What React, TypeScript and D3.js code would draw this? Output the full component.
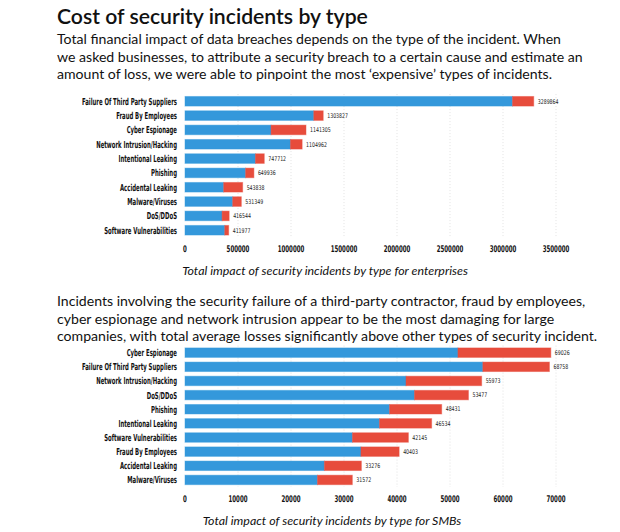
import React, { useEffect, useRef } from 'react';
import * as d3 from 'd3';

const titleText = 'Cost of security incidents by type';
const introLines = [
  'Total financial impact of data breaches depends on the type of the incident. When',
  'we asked businesses, to attribute a security breach to a certain cause and estimate an',
  'amount of loss, we were able to pinpoint the most \u2018expensive\u2019 types of incidents.',
];
const middleLines = [
  'Incidents involving the security failure of a third-party contractor, fraud by employees,',
  'cyber espionage and network intrusion appear to be the most damaging for large',
  'companies, with total average losses significantly above other types of security incident.',
];

const enterpriseTypes = [
  'Failure Of Third Party Suppliers',
  'Fraud By Employees',
  'Cyber Espionage',
  'Network Intrusion/Hacking',
  'Intentional Leaking',
  'Phishing',
  'Accidental Leaking',
  'Malware/Viruses',
  'DoS/DDoS',
  'Software Vulnerabilities',
];
const enterpriseBlue = [3090000, 1215000, 812000, 995000, 665000, 572000, 365000, 450000, 350000, 375000];
const enterpriseRed = [199864, 88827, 329305, 109962, 82712, 77936, 178838, 81349, 66544, 36977];
const enterpriseTicks = [0, 500000, 1000000, 1500000, 2000000, 2500000, 3000000, 3500000];
const enterpriseCaption = 'Total impact of security incidents by type for enterprises';

const smbTypes = [
  'Cyber Espionage',
  'Failure Of Third Party Suppliers',
  'Network Intrusion/Hacking',
  'DoS/DDoS',
  'Phishing',
  'Intentional Leaking',
  'Software Vulnerabilities',
  'Fraud By Employees',
  'Accidental Leaking',
  'Malware/Viruses',
];
const smbBlue = [51500, 56200, 41700, 43300, 38600, 36700, 31600, 33200, 26300, 25000];
const smbRed = [17526, 12558, 14273, 10177, 9831, 9834, 10545, 7203, 6976, 6572];
const smbTicks = [0, 10000, 20000, 30000, 40000, 50000, 60000, 70000];
const smbCaption = 'Total impact of security incidents by type for SMBs';

const BLUE = '#3498db';
const RED = '#e74c3c';
const TEXT_FONT = 'Lato, "Open Sans", sans-serif';
const LABEL_FONT = '"DejaVu Sans Condensed", "DejaVu Sans", sans-serif';

type Sel = d3.Selection<SVGGElement, unknown, null, undefined>;

function drawChart(
  g: Sel,
  types: string[],
  blue: number[],
  red: number[],
  ticks: number[],
  top: number,
  bottom: number,
  axisY: number,
  caption: string,
  captionX: number,
  captionY: number,
) {
  const x = d3.scaleLinear().domain([0, ticks[ticks.length - 1]]).range([185, 556]);
  const y = d3.scaleBand<string>().domain(types).range([top, bottom])
    .paddingInner(0.33).paddingOuter(0.165);

  // dotted grid
  g.append('g').selectAll('line')
    .data(ticks.slice(1))
    .enter().append('line')
    .attr('x1', d => x(d)).attr('x2', d => x(d))
    .attr('y1', top).attr('y2', bottom)
    .attr('stroke', '#e2e2e2')
    .attr('stroke-dasharray', '1,2');

  const rows = g.append('g').selectAll('g')
    .data(types)
    .enter().append('g')
    .attr('transform', d => `translate(0,${y(d)})`);

  rows.append('rect')
    .attr('x', x(0))
    .attr('width', (d, i) => x(blue[i]) - x(0))
    .attr('height', y.bandwidth())
    .attr('fill', BLUE)
    .attr('stroke', BLUE)
    .attr('stroke-opacity', 0.45);

  rows.append('rect')
    .attr('x', (d, i) => x(blue[i]))
    .attr('width', (d, i) => x(blue[i] + red[i]) - x(blue[i]))
    .attr('height', y.bandwidth())
    .attr('fill', RED)
    .attr('stroke', RED)
    .attr('stroke-opacity', 0.45);

  rows.append('text')
    .attr('x', (d, i) => x(blue[i] + red[i]) + 4)
    .attr('y', y.bandwidth() / 2)
    .attr('dy', '0.35em')
    .attr('font-family', LABEL_FONT)
    .attr('font-size', 6.5)
    .attr('fill', '#222')
    .attr('transform-origin', (d, i) => `${x(blue[i] + red[i]) + 4} 0`)
    .attr('transform', 'scale(0.8,1)')
    .text((d, i) => String(blue[i] + red[i]));

  // category labels
  rows.append('text')
    .attr('transform', `translate(177,${y.bandwidth() / 2}) scale(0.62,1)`)
    .attr('text-anchor', 'end')
    .attr('dy', '0.36em')
    .attr('font-family', LABEL_FONT)
    .attr('font-weight', 'bold')
    .attr('font-size', 9.6)
    .attr('fill', '#111')
    .text(d => d);

  // axis labels
  g.append('g').selectAll('text')
    .data(ticks)
    .enter().append('text')
    .attr('transform', d => `translate(${x(d)},${axisY}) scale(0.66,1)`)
    .attr('text-anchor', 'middle')
    .attr('font-family', LABEL_FONT)
    .attr('font-weight', 'bold')
    .attr('font-size', 9.2)
    .attr('fill', '#111')
    .text(d => String(d));

  g.append('text')
    .attr('x', captionX)
    .attr('y', captionY)
    .attr('text-anchor', 'middle')
    .attr('font-family', TEXT_FONT)
    .attr('font-style', 'italic')
    .attr('font-size', 12.4)
    .attr('fill', '#111')
    .text(caption);
}

export default function App() {
  const ref = useRef<SVGSVGElement>(null);

  useEffect(() => {
    if (!ref.current) return;
    document.body.style.margin = '0';
    const svg = d3.select(ref.current);
    svg.selectAll('*').remove();

    svg.append('rect').attr('width', 620).attr('height', 532).attr('fill', '#fff');

    svg.append('text')
      .attr('x', 57).attr('y', 24)
      .attr('font-family', TEXT_FONT)
      .attr('font-weight', 600)
      .attr('font-size', 21.2)
      .attr('fill', '#111')
      .text(titleText);

    const para = (lines: string[], y0: number) => {
      svg.append('g').selectAll('text')
        .data(lines)
        .enter().append('text')
        .attr('x', 57)
        .attr('y', (d, i) => y0 + i * 17.6)
        .attr('font-family', TEXT_FONT)
        .attr('font-size', 14.1)
        .attr('fill', '#111')
        .text(d => d);
    };
    para(introLines, 44);
    para(middleLines, 306);

    drawChart(svg.append('g'), enterpriseTypes, enterpriseBlue, enterpriseRed, enterpriseTicks,
      94.1, 237.4, 252, enterpriseCaption, 325, 275);
    drawChart(svg.append('g'), smbTypes, smbBlue, smbRed, smbTicks,
      345.6, 487, 502, smbCaption, 332, 525);
  }, []);

  return <svg ref={ref} width={620} height={532} style={{ display: 'block' }} />;
}
